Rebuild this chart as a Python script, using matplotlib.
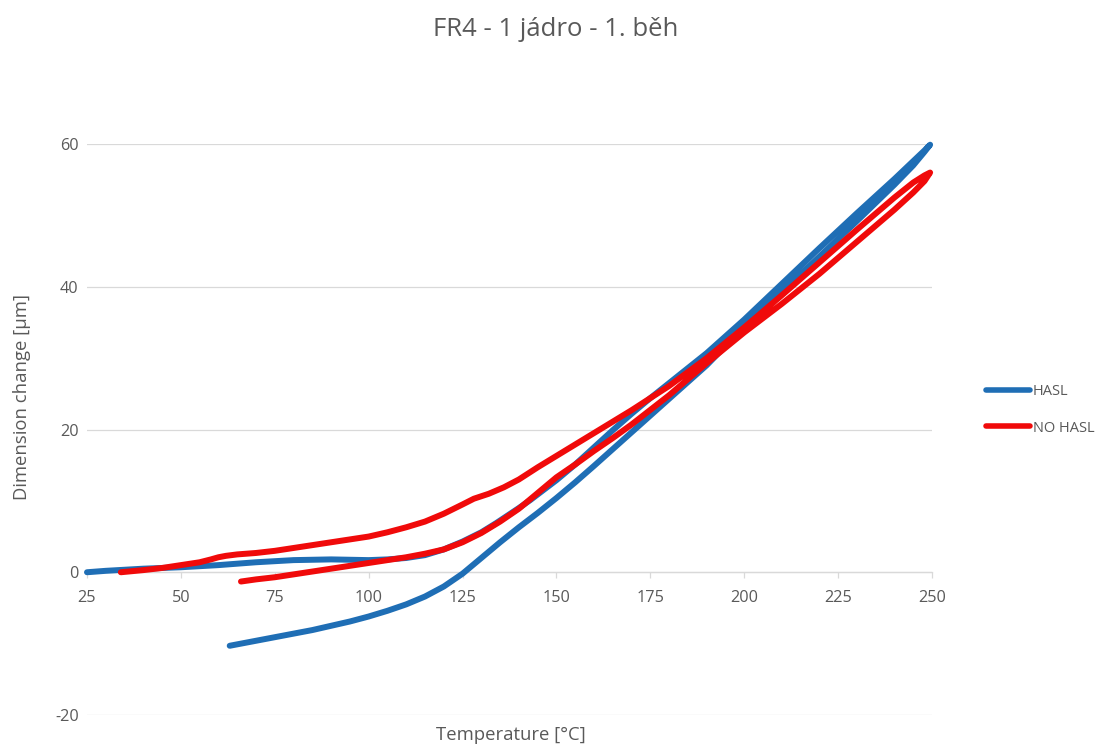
import numpy as np
import matplotlib
matplotlib.use('Agg')
import matplotlib.pyplot as plt

plt.rcParams['font.family'] = ['Open Sans', 'DejaVu Sans']
plt.rcParams['axes.unicode_minus'] = False

TITLE = 'FR4 - 1 jádro - 1. běh'
X_LABEL = 'Temperature [°C]'
Y_LABEL = 'Dimension change [µm]'
X_TICKS = [25, 50, 75, 100, 125, 150, 175, 200, 225, 250]
Y_TICKS = [-20, 0, 20, 40, 60]

# HASL - heating branch (starts at room temperature)
hasl_heat_t = [25, 30, 40, 50, 60, 70, 80, 90, 100, 105, 110, 115, 120, 125, 130, 134, 140,
               143, 145, 150, 155, 160, 165, 170, 175, 180, 185, 190, 200, 210, 220, 230,
               240, 245, 248, 249.5]
hasl_heat_d = [0, 0.2, 0.5, 0.7, 1.0, 1.4, 1.7, 1.8, 1.7, 1.8, 2.0, 2.4, 3.2, 4.3, 5.6, 6.9, 9.0,
               10.1, 10.9, 12.9, 15.1, 17.5, 19.9, 22.2, 24.4, 26.5, 28.6, 30.7, 35.4, 40.4, 45.4, 50.3,
               55.1, 57.6, 59.1, 59.9]
# HASL - cooling branch (back from the peak)
hasl_cool_t = [249.5, 248, 245, 240, 230, 220, 210, 200, 190, 180, 170, 160, 155, 150, 145, 140,
               135, 130, 125, 120, 115, 110, 105, 100, 95, 90, 85, 80, 75, 70, 65, 63]
hasl_cool_d = [59.9, 58.9, 57.0, 54.3, 49.2, 44.2, 39.3, 34.4, 29.0, 24.3, 19.6, 14.9, 12.6, 10.4, 8.3, 6.3,
               4.2, 2.0, -0.2, -2.0, -3.4, -4.5, -5.4, -6.2, -6.9, -7.5, -8.1, -8.6, -9.1, -9.6, -10.1, -10.3]

# NO HASL - heating branch
nohasl_heat_t = [34, 40, 45, 50, 55, 58, 60, 62, 65, 70, 75, 80, 85, 90, 95, 100, 105, 110, 115, 120,
                 125, 128, 132, 136, 140, 145, 150, 160, 170, 180, 190, 200, 210, 220, 230, 240,
                 245, 248, 249.5]
nohasl_heat_d = [0, 0.3, 0.6, 1.0, 1.4, 1.8, 2.1, 2.3, 2.5, 2.7, 3.0, 3.4, 3.8, 4.2, 4.6, 5.0, 5.6, 6.3, 7.1, 8.2,
                 9.5, 10.3, 11.0, 11.9, 13.0, 14.7, 16.3, 19.5, 22.7, 26.1, 30.0, 34.3, 38.8, 43.4, 48.0, 52.5,
                 54.6, 55.6, 56.0]
# NO HASL - cooling branch
nohasl_cool_t = [249.5, 248, 245, 240, 230, 220, 210, 200, 190, 180, 170, 165, 160, 155, 150, 145,
                 140, 135, 130, 125, 120, 115, 110, 105, 100, 95, 90, 85, 80, 75, 70, 66]
nohasl_cool_d = [56.0, 54.8, 53.2, 50.8, 46.3, 41.8, 37.6, 33.6, 29.3, 24.8, 20.7, 18.8, 17.0, 15.1, 13.3, 11.1,
                 8.9, 7.1, 5.5, 4.2, 3.2, 2.6, 2.1, 1.7, 1.3, 0.9, 0.5, 0.1, -0.3, -0.7, -1.0, -1.3]

BLUE = '#1F6EB5'
RED = '#F00A0A'
GREY_TXT = '#595959'
GRID = '#D9D9D9'

W, H = 1109, 745
fig = plt.figure(figsize=(W / 100, H / 100), dpi=100)
ax = fig.add_axes([87 / W, 1 - 715 / H, (932 - 87) / W, (715 - 144) / H])

hasl_t = hasl_heat_t + hasl_cool_t[1:]
hasl_d = hasl_heat_d + hasl_cool_d[1:]
nohasl_t = nohasl_heat_t + nohasl_cool_t[1:]
nohasl_d = nohasl_heat_d + nohasl_cool_d[1:]

ax.plot(hasl_t, hasl_d, color=BLUE, lw=4.3, solid_capstyle='round', solid_joinstyle='round',
        label='HASL', zorder=3, clip_on=False)
ax.plot(nohasl_t, nohasl_d, color=RED, lw=4.3, solid_capstyle='round', solid_joinstyle='round',
        label='NO HASL', zorder=4, clip_on=False)

ax.set_xlim(25, 250)
ax.set_ylim(-20, 60)
ax.set_xticks(X_TICKS)
ax.set_yticks(Y_TICKS)

# horizontal gridlines only, x axis crosses at 0 like in Excel
ax.grid(axis='y', color=GRID, lw=0.9)
ax.set_axisbelow(True)
for s in ['top', 'right', 'left']:
    ax.spines[s].set_visible(False)
ax.spines['bottom'].set_position(('data', 0))
ax.spines['bottom'].set_color(GRID)
ax.spines['bottom'].set_linewidth(0.9)
ax.tick_params(axis='x', direction='out', length=4, width=0.9, color=GRID,
               labelcolor=GREY_TXT, labelsize=11.7, pad=9)
ax.tick_params(axis='y', length=0, labelcolor=GREY_TXT, labelsize=11.7, pad=6)

fig.text(556 / W, 1 - 30 / H, TITLE, ha='center', va='center', fontsize=18.5, color=GREY_TXT)
fig.text(511 / W, 1 - 735 / H, X_LABEL, ha='center', va='center', fontsize=13.3, color=GREY_TXT)
fig.text(22 / W, 1 - 397 / H, Y_LABEL, ha='center', va='center', rotation=90, fontsize=13.3,
         color=GREY_TXT)

leg = fig.legend(loc='center left', bbox_to_anchor=(980 / W, 1 - 410 / H), frameon=False,
                 fontsize=10.5, handlelength=3.0, handletextpad=0.2, labelspacing=1.45,
                 borderaxespad=0)
for line in leg.get_lines():
    line.set_linewidth(4)
for t in leg.get_texts():
    t.set_color(GREY_TXT)

fig.savefig('out.png', dpi=100)
